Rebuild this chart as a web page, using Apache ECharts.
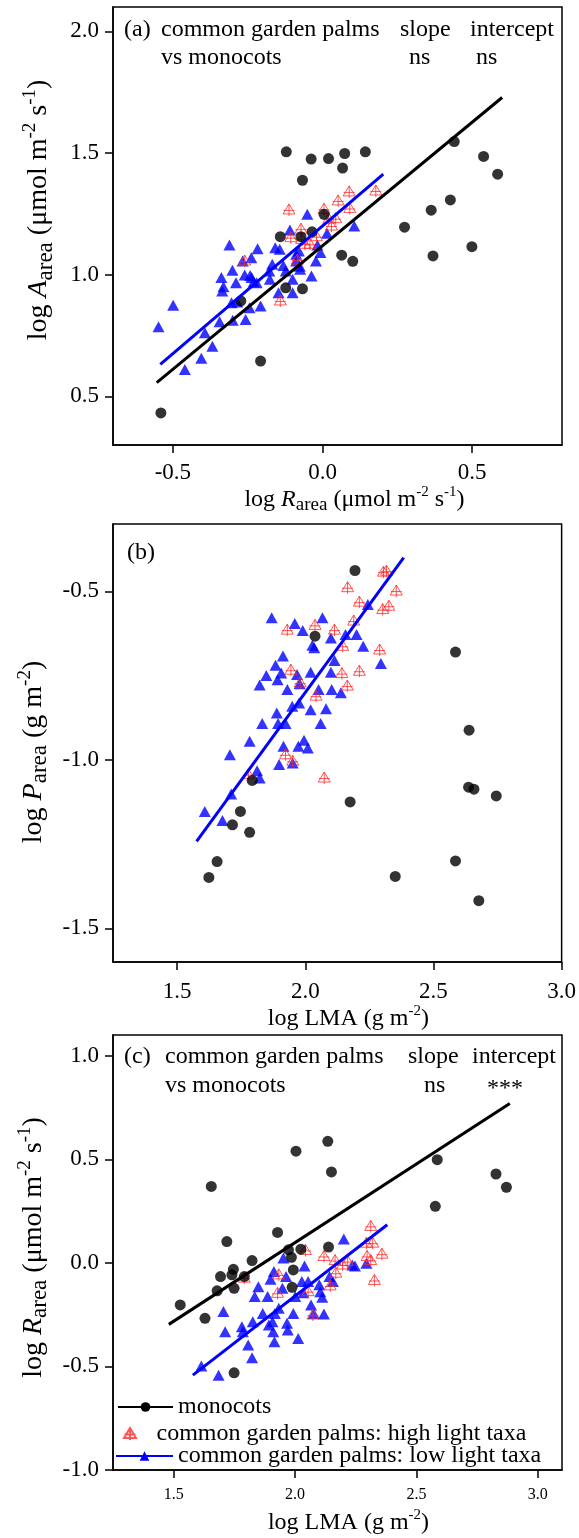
<!DOCTYPE html>
<html>
<head>
<meta charset="utf-8">
<script src="https://cdn.jsdelivr.net/npm/echarts@6/dist/echarts.min.js"></script>
<style>
html,body{margin:0;padding:0;background:#fff;}
#chart{width:579px;height:1538px;}
</style>
</head>
<body>
<div id="chart"></div>
<script>
// ---------- DATA ----------
// Panel (a): log Rarea (x) vs log Aarea (y)
const aMonocots = [[-0.54,0.432],[-0.273,0.892],[-0.207,0.645],[-0.141,1.156],[-0.123,0.946],[-0.121,1.505],[-0.072,1.156],[-0.067,0.942],[-0.067,1.388],[-0.035,1.176],[-0.038,1.475],[0.005,1.248],[0.02,1.477],[0.064,1.08],[0.067,1.438],[0.074,1.498],[0.101,1.055],[0.143,1.505],[0.274,1.195],[0.363,1.265],[0.369,1.077],[0.427,1.307],[0.44,1.547],[0.499,1.115],[0.538,1.486],[0.585,1.413]];
const aHighLight = [[-0.26,1.056],[-0.141,0.892],[-0.112,1.266],[-0.106,1.152],[-0.084,1.06],[-0.072,1.187],[-0.07,1.145],[-0.059,1.125],[-0.042,1.125],[-0.02,1.156],[0.005,1.269],[0.021,1.228],[0.03,1.2],[0.044,1.23],[0.052,1.303],[0.089,1.34],[0.091,1.272],[0.178,1.344]];
const aLowLight = [[-0.548,0.786],[-0.499,0.874],[-0.46,0.61],[-0.405,0.656],[-0.393,0.761],[-0.368,0.706],[-0.344,0.807],[-0.338,0.988],[-0.335,0.933],[-0.331,0.95],[-0.311,1.122],[-0.301,1.018],[-0.3,0.813],[-0.289,0.967],[-0.285,0.888],[-0.304,0.885],[-0.267,1.056],[-0.26,0.999],[-0.257,0.816],[-0.244,0.864],[-0.242,0.997],[-0.238,1.07],[-0.237,0.988],[-0.23,0.971],[-0.22,0.967],[-0.217,1.107],[-0.207,0.871],[-0.178,1.015],[-0.176,0.981],[-0.168,1.043],[-0.158,1.111],[-0.147,0.926],[-0.143,1.104],[-0.131,1.038],[-0.123,1.015],[-0.109,1.184],[-0.1,0.926],[-0.1,0.981],[-0.088,1.056],[-0.088,1.084],[-0.079,1.097],[-0.076,1.035],[-0.075,1.022],[-0.051,1.248],[-0.037,0.995],[-0.022,1.056],[-0.017,1.122],[-0.007,1.091],[0.015,1.17],[0.106,1.2]];
const aMonoFit = [[-0.554,0.556],[0.6,1.728]];
const aLowFit = [[-0.542,0.631],[0.203,1.413]];

// Panel (b): log LMA (x) vs log Parea (y)
const bMonocots = [[2.194,-0.438],[2.038,-0.633],[1.793,-1.061],[1.747,-1.153],[1.716,-1.193],[1.783,-1.215],[1.656,-1.302],[1.624,-1.349],[2.175,-1.125],[2.351,-1.346],[2.586,-0.68],[2.639,-0.912],[2.637,-1.081],[2.658,-1.087],[2.745,-1.107],[2.586,-1.3],[2.677,-1.418]];
const bHighLight = [[2.305,-0.443],[2.317,-0.44],[2.165,-0.489],[2.211,-0.532],[2.355,-0.499],[2.302,-0.554],[2.326,-0.544],[2.189,-0.588],[2.038,-0.601],[1.93,-0.615],[2.114,-0.615],[2.146,-0.663],[2.29,-0.674],[1.944,-0.734],[2.143,-0.744],[2.211,-0.737],[2.164,-0.781],[2.042,-0.811],[1.923,-0.985],[1.951,-1.004],[2.074,-1.054],[1.778,-1.044],[1.98,-0.772]];
const bLowLight = [[1.869,-0.578],[1.959,-0.595],[2.067,-0.578],[1.99,-0.616],[2.028,-0.66],[2.035,-0.667],[2.1,-0.638],[2.157,-0.628],[2.2,-0.628],[2.226,-0.663],[2.244,-0.539],[2.295,-0.714],[1.913,-0.692],[1.884,-0.719],[1.848,-0.75],[1.822,-0.778],[1.892,-0.762],[1.906,-0.742],[1.968,-0.747],[1.978,-0.774],[2.021,-0.74],[1.93,-0.791],[2.052,-0.791],[2.1,-0.74],[2.114,-0.705],[2.103,-0.791],[2.139,-0.801],[1.949,-0.841],[1.976,-0.831],[2.021,-0.851],[2.081,-0.848],[1.889,-0.861],[1.832,-0.892],[1.894,-0.892],[1.923,-0.892],[2.06,-0.892],[1.783,-0.945],[1.706,-0.985],[1.915,-0.96],[1.973,-0.96],[1.995,-0.942],[2.01,-0.965],[1.898,-1.014],[1.951,-1.009],[1.812,-1.032],[1.822,-1.054],[1.711,-1.101],[1.608,-1.153],[1.677,-1.18]];
const bLowFit = [[1.576,-1.242],[2.384,-0.4]];

// Panel (c): log LMA (x) vs log Rarea (y)
const cMonocots = [[1.527,-0.203],[1.629,-0.268],[1.655,0.369],[1.679,-0.135],[1.693,-0.066],[1.719,0.103],[1.74,-0.058],[1.746,-0.031],[1.749,-0.123],[1.749,-0.531],[1.791,-0.066],[1.823,0.011],[1.928,0.147],[1.973,0.063],[1.985,0.027],[1.993,-0.034],[1.988,-0.118],[2.004,0.539],[2.024,0.066],[2.135,0.587],[2.138,0.076],[2.15,0.439],[2.586,0.498],[2.578,0.273],[2.828,0.429],[2.871,0.365]];
const cHighLight = [[1.791,-0.074],[1.928,-0.147],[1.933,-0.058],[2.043,0.06],[2.054,-0.139],[2.074,-0.252],[2.119,0.031],[2.145,-0.111],[2.168,-0.05],[2.165,0.011],[2.196,-0.01],[2.217,0.006],[2.294,0.095],[2.312,0.176],[2.32,0.095],[2.297,0.031],[2.312,0.011],[2.358,0.042],[2.327,-0.085]];
const cLowLight = [[1.614,-0.498],[1.685,-0.542],[1.705,-0.235],[1.712,-0.332],[1.781,-0.308],[1.785,-0.332],[1.807,-0.397],[1.823,-0.458],[1.826,-0.284],[1.834,-0.163],[1.849,-0.115],[1.867,-0.244],[1.887,-0.163],[1.899,-0.079],[1.913,-0.042],[1.917,-0.244],[1.907,-0.284],[1.91,-0.332],[1.915,-0.381],[1.892,-0.3],[1.933,-0.219],[1.948,-0.123],[1.952,0.023],[1.963,-0.066],[1.967,-0.292],[1.97,-0.324],[1.993,-0.244],[2.001,-0.163],[2.013,-0.365],[2.028,-0.09],[2.039,-0.015],[2.034,-0.144],[2.054,-0.09],[2.066,-0.203],[2.077,-0.244],[2.1,-0.106],[2.104,-0.139],[2.112,-0.166],[2.119,-0.247],[2.142,-0.066],[2.156,-0.09],[2.201,0.115],[2.236,-0.01],[2.247,-0.015],[2.294,-0.002]];
const cMonoFit = [[1.48,-0.297],[2.885,0.769]];
const cLowFit = [[1.579,-0.542],[2.38,0.184]];

// Tick values
const aXTicks = [-0.5, 0.0, 0.5];
const aYTicks = [0.5, 1.0, 1.5, 2.0];
const bXTicks = [1.5, 2.0, 2.5, 3.0];
const bYTicks = [-1.5, -1.0, -0.5];
const cXTicks = [1.5, 2.0, 2.5, 3.0];
const cYTicks = [-1.0, -0.5, 0.0, 0.5, 1.0];

const legendNames = ['monocots', 'common garden palms: high light taxa', 'common garden palms: low light taxa'];

// ---------- STYLE ----------
const FONT = '"Liberation Serif", "Times New Roman", serif';
const BLUE = '#0000ff';
const RED = '#ff2a2a';
const crossTri = 'path://M6 0 L12 10 L0 10 Z M6 0 L6 12 M0.5 6.5 L11.5 6.5';

const richX = {
  t: {fontFamily: FONT, fontSize: 24, lineHeight: 30, color: '#000'},
  i: {fontFamily: FONT, fontSize: 24, lineHeight: 30, fontStyle: 'italic', color: '#000'},
  s: {fontFamily: FONT, fontSize: 19, lineHeight: 18, verticalAlign: 'bottom', color: '#000'},
  p: {fontFamily: FONT, fontSize: 15, lineHeight: 14, verticalAlign: 'top', color: '#000'}
};
const richY = {
  t: {fontFamily: FONT, fontSize: 28, lineHeight: 36, color: '#000'},
  i: {fontFamily: FONT, fontSize: 28, lineHeight: 36, fontStyle: 'italic', color: '#000'},
  s: {fontFamily: FONT, fontSize: 23, lineHeight: 22, verticalAlign: 'bottom', color: '#000'},
  p: {fontFamily: FONT, fontSize: 19, lineHeight: 17, verticalAlign: 'top', color: '#000'}
};

const fmt = v => (Math.round(v * 10) / 10).toFixed(1);

function xAxis(idx, min, max, ticks, name, gap, fs, margin, pad) {
  return {
    type: 'value', gridIndex: idx, min: min, max: max,
    splitLine: {show: false},
    axisLine: {show: true, onZero: false, lineStyle: {color: '#000', width: 1.5}},
    axisTick: {show: true, length: 8, lineStyle: {color: '#000', width: 1.5}, customValues: ticks},
    axisLabel: {fontFamily: FONT, fontSize: fs, color: '#000', margin: margin, customValues: ticks, formatter: fmt},
    name: name, nameLocation: 'middle', nameGap: gap,
    nameTextStyle: {rich: richX, padding: pad}
  };
}
function yAxis(idx, min, max, ticks, name, gap, pad) {
  return {
    type: 'value', gridIndex: idx, min: min, max: max,
    splitLine: {show: false},
    axisLine: {show: true, onZero: false, lineStyle: {color: '#000', width: 1.5}},
    axisTick: {show: true, length: 8, lineStyle: {color: '#000', width: 1.5}, customValues: ticks},
    axisLabel: {fontFamily: FONT, fontSize: 23, color: '#000', margin: 14, customValues: ticks, formatter: fmt},
    name: name, nameLocation: 'middle', nameGap: gap, nameRotate: 90,
    nameTextStyle: {rich: richY, padding: pad}
  };
}
function mono(name, idx, data) {
  return {type: 'scatter', name: name, xAxisIndex: idx, yAxisIndex: idx, data: data,
    symbol: 'circle', symbolSize: 11, itemStyle: {color: '#000'}, z: 4};
}
function high(name, idx, data) {
  return {type: 'scatter', name: name, xAxisIndex: idx, yAxisIndex: idx, data: data,
    symbol: crossTri, symbolSize: [12, 12],
    itemStyle: {color: 'rgba(0,0,0,0)', borderColor: RED, borderWidth: 1}, z: 3};
}
function low(name, idx, data) {
  return {type: 'scatter', name: name, xAxisIndex: idx, yAxisIndex: idx, data: data,
    symbol: 'triangle', symbolSize: [12, 11], itemStyle: {color: BLUE}, z: 2};
}
function fit(name, idx, data, color, sym) {
  return {type: 'line', name: name, xAxisIndex: idx, yAxisIndex: idx, data: data,
    symbol: sym, symbolSize: 10, showSymbol: false, silent: true,
    lineStyle: {color: color, width: 3}, itemStyle: {color: color}, z: 5};
}
function txt(x, y, s) {
  return {type: 'text', x: x, y: y, style: {text: s, font: '24px ' + FONT, fill: '#000', verticalAlign: 'middle'}};
}
function legend(name, left, top, w) {
  return {data: [name], left: left, top: top, orient: 'vertical', itemWidth: w, itemHeight: 12,
    selectedMode: false, padding: 0, itemGap: 0,
    textStyle: {fontFamily: FONT, fontSize: 24, color: '#000'}};
}

const chart = echarts.init(document.getElementById('chart'), null, {renderer: 'canvas'});
chart.setOption({
  animation: false,
  backgroundColor: '#fff',
  grid: [
    {left: 113, width: 449, top: 7, height: 438, show: true, borderColor: '#000', borderWidth: 1.5},
    {left: 113, width: 449, top: 524, height: 438, show: true, borderColor: '#000', borderWidth: 1.5},
    {left: 113, width: 449, top: 1035, height: 435, show: true, borderColor: '#000', borderWidth: 1.5}
  ],
  xAxis: [
    xAxis(0, -0.7, 0.8, aXTicks, '{t|log }{i|R}{s|area}{t| (μmol m}{p|-2}{t| s}{p|-1}{t|)}', 36, 23, 16, [0, 0, 0, 34]),
    xAxis(1, 1.25, 3.0, bXTicks, '{t|log LMA (g m}{p|-2}{t|)}', 40, 23, 18, [0, 0, 0, 22]),
    xAxis(2, 1.25, 3.1, cXTicks, '{t|log LMA (g m}{p|-2}{t|)}', 38, 16, 17, [0, 0, 0, 22])
  ],
  yAxis: [
    yAxis(0, 0.3, 2.1, aYTicks, '{t|log }{i|A}{s|area}{t| (μmol m}{p|-2}{t| s}{p|-1}{t|)}', 56, [0, 0, 0, 32]),
    yAxis(1, -1.6, -0.3, bYTicks, '{t|log }{i|P}{s|area}{t| (g m}{p|-2}{t|)}', 56, [0, 18, 0, 0]),
    yAxis(2, -1.0, 1.1, cYTicks, '{t|log }{i|R}{s|area}{t| (μmol m}{p|-2}{t| s}{p|-1}{t|)}', 56, [0, 0, 0, 10])
  ],
  legend: [
    legend(legendNames[0], 117, 1395, 55),
    legend(legendNames[1], 123, 1422, 43),
    legend(legendNames[2], 115, 1444, 57)
  ],
  series: [
    low('low a', 0, aLowLight), high('high a', 0, aHighLight), mono('mono a', 0, aMonocots),
    fit('fit mono a', 0, aMonoFit, '#000', 'circle'), fit('fit low a', 0, aLowFit, BLUE, 'triangle'),
    low('low b', 1, bLowLight), high('high b', 1, bHighLight), mono('mono b', 1, bMonocots),
    fit('fit low b', 1, bLowFit, BLUE, 'triangle'),
    low('low c', 2, cLowLight), high(legendNames[1], 2, cHighLight), mono('mono c', 2, cMonocots),
    fit(legendNames[0], 2, cMonoFit, '#000', 'circle'), fit(legendNames[2], 2, cLowFit, BLUE, 'triangle')
  ],
  graphic: [
    txt(124, 30, '(a)'), txt(161, 30, 'common garden palms'), txt(161, 58, 'vs monocots'),
    txt(400, 30, 'slope'), txt(409, 58, 'ns'), txt(470, 30, 'intercept'), txt(476, 58, 'ns'),
    txt(127, 553, '(b)'),
    txt(124, 1057, '(c)'), txt(165, 1057, 'common garden palms'), txt(165, 1086, 'vs monocots'),
    txt(408, 1057, 'slope'), txt(424, 1086, 'ns'), txt(472, 1057, 'intercept'), txt(487, 1089, '***')
  ]
});
</script>
</body>
</html>
